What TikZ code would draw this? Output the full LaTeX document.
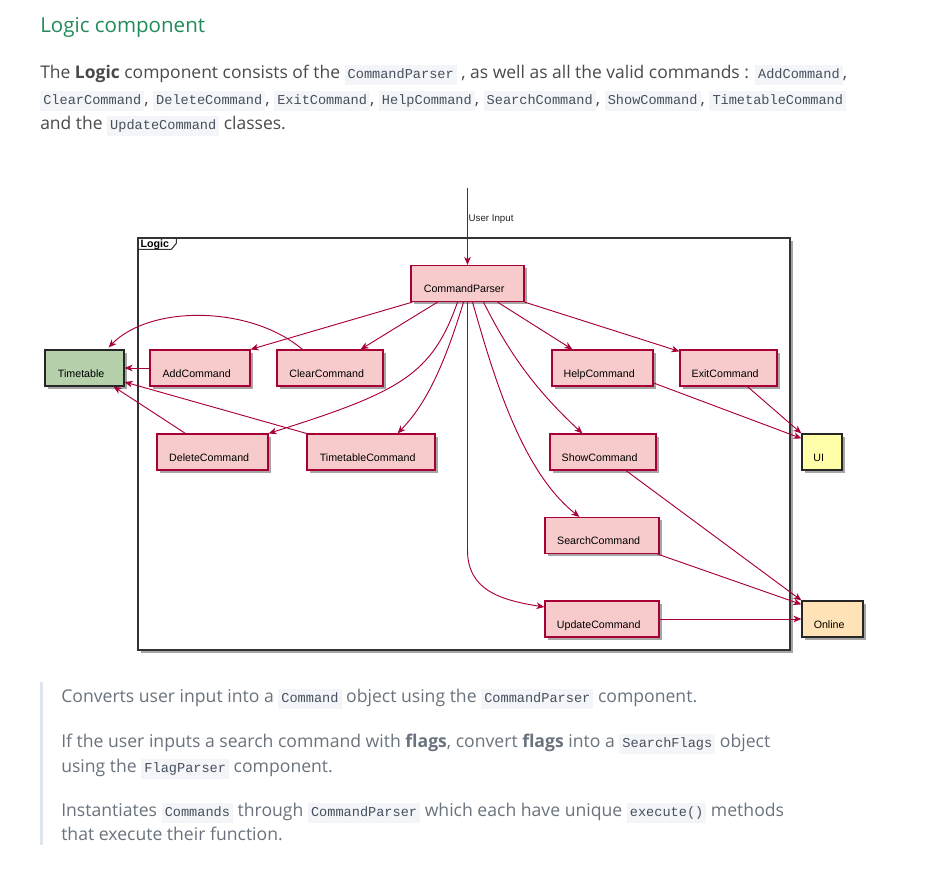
\documentclass[tikz,border=0pt]{standalone}
\usepackage{fontspec}
\setmainfont{Open Sans}
\setmonofont{Liberation Mono}
\newfontfamily\umlfont{Liberation Sans}
\usetikzlibrary{arrows.meta,positioning,calc,shadows}

\definecolor{umlred}{HTML}{A80036}
\definecolor{compfill}{RGB}{247,203,203}
\definecolor{ttgreen}{RGB}{181,208,170}
\definecolor{uiyellow}{RGB}{255,255,170}
\definecolor{onlineorange}{RGB}{255,226,182}
\definecolor{headgreen}{RGB}{34,139,90}
\definecolor{bodytext}{RGB}{74,74,74}
\definecolor{quotetext}{RGB}{106,115,125}
\definecolor{codebg}{RGB}{243,245,248}
\definecolor{codetext}{RGB}{70,80,92}
\definecolor{quotebar}{RGB}{221,229,238}

\def\px{0.75pt}
\newcommand{\codespan}[1]{{\setlength{\fboxsep}{2.3pt}\colorbox{codebg}{\fontsize{10.2}{10.5}\ttfamily\color{codetext}\strut#1}}}

\begin{document}
\begin{tikzpicture}[x=0.75pt, y=-0.75pt,
  body/.style={anchor=base west, inner sep=0pt, text=bodytext, font=\fontsize{13.1}{16}\selectfont},
  quote/.style={anchor=base west, inner sep=0pt, text=quotetext, font=\fontsize{13.2}{16}\selectfont},
  umlshadow/.style={drop shadow={shadow xshift=2pt, shadow yshift=-2pt, opacity=0.35, fill=black}},
  comp/.style={draw=umlred, line width=0.9pt, fill=compfill, umlshadow, minimum height=36*\px,
    text height=14pt, text depth=0pt, font=\umlfont\fontsize{8}{9}\selectfont,
    execute at end node={\hspace{5pt}},
    append after command={\pgfextra{
      \draw[umlred, fill=compfill, line width=0.6pt] ($(\tikzlastnode.north east)+(-17,5)$) rectangle ++(12,8);
      \draw[umlred, fill=compfill, line width=0.5pt] ($(\tikzlastnode.north east)+(-19,6.5)$) rectangle ++(4,2);
      \draw[umlred, fill=compfill, line width=0.5pt] ($(\tikzlastnode.north east)+(-19,9.5)$) rectangle ++(4,2);}}},
  folder/.style 2 args={draw=black!85, line width=0.9pt, fill=#1, umlshadow, minimum height=36*\px,
    text height=14pt, text depth=0pt, font=\umlfont\fontsize{8}{9}\selectfont,
    execute at end node={\hspace{5pt}},
    append after command={\pgfextra{
      \draw[black!85, line width=0.9pt] ($(\tikzlastnode.north west)+(0,8)$) -- ++(#2,0) -- ++(5,-8);}}},
  frame/.style={draw=black!80, line width=1pt, fill=white, umlshadow},
  flow/.style={draw=umlred, line width=0.7pt, -{Stealth[length=6pt,width=5pt,inset=1.8pt]}},
  inlbl/.style={font=\umlfont\fontsize{7.3}{8}\selectfont, text=black!85, inner sep=1pt}
]
\fill[white] (0,0) rectangle (942,868);
\useasboundingbox (0,0) rectangle (942,868);

% page text
\node[anchor=base west, inner sep=0pt, text=headgreen, font=\fontsize{15.4}{18}\selectfont] (title) at (40,32) {Logic component};
\node[body] (line1) at (40,78) {The \textbf{Logic} component consists of the \codespan{CommandParser} , as well as all the valid commands : \codespan{AddCommand},};
\node[body] (line2) at (40,104) {\codespan{ClearCommand}, \codespan{DeleteCommand}, \codespan{ExitCommand}, \codespan{HelpCommand}, \codespan{SearchCommand}, \codespan{ShowCommand}, \codespan{TimetableCommand}};
\node[body] (line3) at (40,129) {and the \codespan{UpdateCommand} classes.};

% diagram
\node[frame, minimum width=652*\px, minimum height=412*\px] (logic) at (464,444) {};
\draw[black!80, line width=0.8pt] ($(logic.north west)+(0,12)$) -- ++(34,0) -- ++(5,-6) -- ++(0,-6);
\node[anchor=base west, inner sep=0pt, font=\umlfont\bfseries\fontsize{8}{9}\selectfont] (logiclbl) at ($(logic.north west)+(3,10)$) {Logic};

\node[comp, minimum width=113*\px] (parser) at (467.5,283.5) {CommandParser};
\node[comp, minimum width=100*\px] (add) at (200,368) {AddCommand};
\node[comp, minimum width=106*\px] (clear) at (330,368) {ClearCommand};
\node[comp, minimum width=101*\px] (help) at (602.5,368) {HelpCommand};
\node[comp, minimum width=97*\px] (exit) at (728.5,368) {ExitCommand};
\node[comp, minimum width=111*\px] (delete) at (212.5,452) {DeleteCommand};
\node[comp, minimum width=128*\px] (ttcmd) at (371,452) {TimetableCommand};
\node[comp, minimum width=106*\px] (show) at (603,452) {ShowCommand};
\node[comp, minimum width=114*\px] (search) at (602,535.5) {SearchCommand};
\node[comp, minimum width=114*\px] (update) at (602,619) {UpdateCommand};

\node[folder={ttgreen}{22}, minimum width=79*\px] (timetable) at (84.5,368) {Timetable};
\node[folder={uiyellow}{10}, minimum width=40*\px] (ui) at (822,452) {UI};
\node[folder={onlineorange}{18}, minimum width=61*\px] (online) at (832.5,619) {Online};

% user input
\coordinate (input) at (467.5,188);
\draw[flow] (input) -- (parser);
\node[inlbl, anchor=west] (inputlbl) at (467,219) {User Input};

% parser to commands
\draw[flow] ($(parser.south west)+(2,0)$) -- (add.north east);
\draw[flow] ($(parser.south)+(-30,0)$) -- ($(clear.north east)+(-23,0)$);
\draw[flow] ($(parser.south)+(-10,0)$) .. controls (432,375) and (400,392) .. (delete.north east);
\draw[flow] ($(parser.south)+(-4,0)$) .. controls (440,380) and (420,410) .. ($(ttcmd.north east)+(-38,0)$);
\draw[flow] (parser.south) -- (467.5,550) .. controls (467.5,590) and (500,600) .. ($(update.west)+(0,-12)$);
\draw[flow] ($(parser.south)+(5,0)$) .. controls (492,370) and (520,470) .. ($(search.north west)+(35,0)$);
\draw[flow] ($(parser.south)+(16,0)$) .. controls (505,345) and (530,385) .. ($(show.north west)+(33,0)$);
\draw[flow] ($(parser.south)+(30,0)$) -- ($(help.north west)+(21,0)$);
\draw[flow] (parser.south east) -- ($(exit.north west)+(0,2)$);

% commands to timetable
\draw[flow] (add) -- (timetable);
\draw[flow] ($(clear.north west)+(26,0)$) .. controls (250,305) and (150,305) .. ($(timetable.north east)+(-16,-2)$);
\draw[flow] ($(delete.north west)+(29,0)$) -- ($(timetable.south east)+(-11,0)$);
\draw[flow] (ttcmd.north west) -- ($(timetable.east)+(0,14)$);

% commands to ui and online
\draw[flow] ($(help.east)+(0,15)$) -- ($(ui.north west)+(0,5)$);
\draw[flow] ($(exit.south)+(19,0)$) -- (ui.north west);
\draw[flow] ($(show.south)+(23,0)$) -- (online.north west);
\draw[flow] ($(search.south east)+(-2,0)$) -- ($(online.north west)+(0,4)$);
\draw[flow] (update) -- (online);

% quote
\fill[quotebar] (40,682) rectangle (43,845);
\node[quote] (quote1) at (61,702) {Converts user input into a \codespan{Command} object using the \codespan{CommandParser} component.};
\node[quote] (quote2) at (61,747) {If the user inputs a search command with \textbf{flags}, convert \textbf{flags} into a \codespan{SearchFlags} object};
\node[quote] (quote3) at (61,772) {using the \codespan{FlagParser} component.};
\node[quote] (quote4) at (61,816) {Instantiates \codespan{Commands} through \codespan{CommandParser} which each have unique \codespan{execute()} methods};
\node[quote] (quote5) at (61,840) {that execute their function.};
\end{tikzpicture}
\end{document}
